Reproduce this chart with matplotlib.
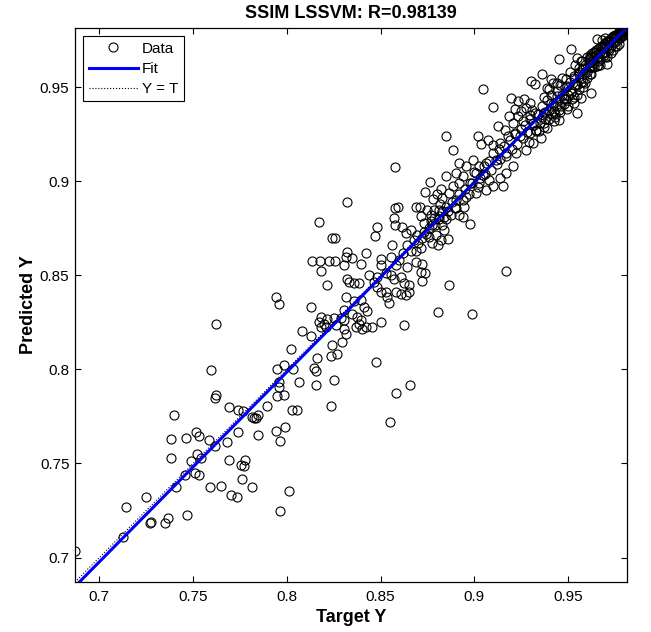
import matplotlib
matplotlib.use('Agg')
import matplotlib.pyplot as plt
import numpy as np

plt.rcParams['font.family'] = ['Liberation Sans', 'DejaVu Sans']

TITLE = 'SSIM LSSVM: R=0.98139'
tick_vals = [0.7, 0.75, 0.8, 0.85, 0.9, 0.95]
tick_labels = ['0.7', '0.75', '0.8', '0.85', '0.9', '0.95']

# (target, predicted) pairs, grouped by area
pts_low = [
    (0.687, 0.7035), (0.7126, 0.7107), (0.7141, 0.7270), (0.7251, 0.7320),
    (0.7272, 0.7185), (0.7278, 0.7189), (0.7350, 0.7181), (0.7368, 0.7210),
    (0.7468, 0.7228), (0.7409, 0.7374), (0.7399, 0.7756), (0.7384, 0.7632),
    (0.7464, 0.7633), (0.7514, 0.7667), (0.7530, 0.7644), (0.7585, 0.7625),
    (0.7619, 0.7593), (0.7680, 0.7616), (0.7738, 0.7665), (0.7690, 0.7801),
    (0.7738, 0.7785), (0.7768, 0.7779), (0.7619, 0.7850), (0.7815, 0.7746),
    (0.7838, 0.7744), (0.7845, 0.7756), (0.7823, 0.7744), (0.7845, 0.7649),
    (0.7384, 0.7528), (0.7520, 0.7552), (0.7491, 0.7512), (0.7544, 0.7530),
    (0.7459, 0.7441), (0.7509, 0.7450), (0.7534, 0.7438), (0.7690, 0.7520),
    (0.7753, 0.7491), (0.7774, 0.7484), (0.7779, 0.7520), (0.7762, 0.7415),
    (0.7815, 0.7375), (0.7589, 0.7374), (0.7648, 0.7381), (0.7701, 0.7335),
    (0.7735, 0.7324), (0.7623, 0.8239), (0.7596, 0.7999), (0.7623, 0.7864),
]

pts_mid_low = [
    (0.7892, 0.7807), (0.7949, 0.7860), (0.7985, 0.7862), (0.8029, 0.7784),
    (0.8056, 0.7784), (0.8234, 0.7807), (0.8549, 0.7718), (0.8581, 0.7873),
    (0.7988, 0.7692), (0.7944, 0.7674), (0.7963, 0.7619), (0.8010, 0.7352),
    (0.7963, 0.7250), (0.8657, 0.7917), (0.8474, 0.8042), (0.7949, 0.8003),
    (0.7985, 0.8024), (0.8035, 0.8003), (0.8145, 0.8006), (0.8154, 0.7994),
    (0.8252, 0.7944), (0.8065, 0.7935), (0.7958, 0.7931), (0.8154, 0.7917),
    (0.7958, 0.7905),
]

pts_mid = [
    (0.8020, 0.8106), (0.8243, 0.8131), (0.8296, 0.8145), (0.8234, 0.8074),
    (0.8270, 0.8083), (0.8159, 0.8061), (0.8181, 0.8225), (0.8207, 0.8225),
    (0.8261, 0.8234), (0.8305, 0.8216), (0.8314, 0.8190), (0.8368, 0.8225),
    (0.8403, 0.8216), (0.8083, 0.8202), (0.8127, 0.8177), (0.8626, 0.8234),
    (0.8127, 0.8332), (0.8305, 0.8314), (0.8412, 0.8332), (0.8430, 0.8309),
    (0.8350, 0.8296), (0.8181, 0.8279), (0.8216, 0.8270), (0.8252, 0.8273),
    (0.8287, 0.8273), (0.8172, 0.8252), (0.8198, 0.8243), (0.8305, 0.8261),
    (0.8376, 0.8279), (0.8394, 0.8261), (0.8385, 0.8243), (0.8421, 0.8225),
    (0.8457, 0.8225), (0.8501, 0.8252), (0.8804, 0.8305), (0.8314, 0.8385),
    (0.8359, 0.8362), (0.8394, 0.8368), (0.8483, 0.8439), (0.8501, 0.8412),
    (0.8528, 0.8412), (0.8537, 0.8385), (0.8545, 0.8355), (0.8581, 0.8412),
    (0.8608, 0.8403), (0.8634, 0.8394), (0.8652, 0.8412), (0.7940, 0.8385),
    (0.7958, 0.8346), (0.8213, 0.8448), (0.8323, 0.8483), (0.8332, 0.8465),
    (0.8359, 0.8462), (0.8385, 0.8462), (0.8439, 0.8501), (0.8483, 0.8492),
    (0.8465, 0.8465), (0.8528, 0.8510), (0.8554, 0.8501), (0.8572, 0.8483),
    (0.8608, 0.8492), (0.8626, 0.8457), (0.8652, 0.8448), (0.8723, 0.8471),
    (0.8864, 0.8451), (0.9172, 0.8523), (0.8987, 0.8295),
]

pts_mid_high = [
    (0.8136, 0.8579), (0.8177, 0.8579), (0.8225, 0.8576), (0.8255, 0.8579),
    (0.8305, 0.8554), (0.8350, 0.8594), (0.8398, 0.8560), (0.8501, 0.8585),
    (0.8501, 0.8554), (0.8554, 0.8599), (0.8581, 0.8554), (0.8599, 0.8581),
    (0.8643, 0.8546), (0.8688, 0.8572), (0.8723, 0.8563), (0.8715, 0.8519),
    (0.8736, 0.8515), (0.8314, 0.8599), (0.8184, 0.8522), (0.8563, 0.8661),
    (0.8688, 0.8629), (0.8715, 0.8644), (0.8323, 0.8626), (0.8421, 0.8617),
    (0.8480, 0.8755), (0.8613, 0.8759), (0.8634, 0.8723), (0.8661, 0.8741),
    (0.8697, 0.8715), (0.8732, 0.8732), (0.8759, 0.8706), (0.8795, 0.8715),
    (0.8839, 0.8741), (0.8471, 0.8711), (0.8243, 0.8700), (0.8257, 0.8700),
    (0.8777, 0.8670), (0.8804, 0.8661), (0.8821, 0.8688), (0.8859, 0.8691),
    (0.8172, 0.8782), (0.8572, 0.8807), (0.8576, 0.8768), (0.8715, 0.8813),
    (0.8768, 0.8821), (0.8786, 0.8804), (0.8812, 0.8813), (0.8732, 0.8777),
    (0.8777, 0.8768), (0.8830, 0.8768), (0.8975, 0.8771), (0.8920, 0.8820),
    (0.8940, 0.8810), (0.8877, 0.8823), (0.8850, 0.8800),
    (0.862, 0.862), (0.864, 0.866), (0.866, 0.863), (0.868, 0.869),
    (0.870, 0.867), (0.872, 0.870), (0.874, 0.872), (0.876, 0.875),
    (0.877, 0.879), (0.879, 0.877), (0.881, 0.880), (0.883, 0.884),
    (0.884, 0.881),
]

pts_high = [
    (0.8576, 0.9074), (0.8320, 0.8891), (0.8848, 0.9026),
    (0.8763, 0.8994), (0.8738, 0.8942), (0.8781, 0.8907), (0.8800, 0.8930),
    (0.8820, 0.8960), (0.8830, 0.8910), (0.8815, 0.8880), (0.8576, 0.8857),
    (0.8595, 0.8866), (0.8688, 0.8866), (0.8710, 0.8866), (0.8750, 0.8848),
    (0.8786, 0.8848), (0.8813, 0.8848), (0.8850, 0.8866), (0.8903, 0.8857),
    (0.8948, 0.8866), (0.8868, 0.8937), (0.8903, 0.8901), (0.8957, 0.8919),
    (0.9010, 0.8937), (0.9064, 0.8955), (0.9153, 0.8973), (0.9099, 0.8973),
    (0.9028, 0.8991), (0.8975, 0.8991), (0.8921, 0.8991), (0.8886, 0.8973),
    (0.8903, 0.9044), (0.8939, 0.9026), (0.9010, 0.9044), (0.9046, 0.9035),
    (0.9081, 0.9008), (0.9135, 0.9017), (0.9170, 0.9044), (0.9206, 0.9079),
    (0.9028, 0.9079), (0.9064, 0.9097), (0.8992, 0.9115), (0.8957, 0.9079),
    (0.8921, 0.9097), (0.9117, 0.9115), (0.9170, 0.9133), (0.9224, 0.9151),
    (0.9277, 0.9168), (0.9313, 0.9204), (0.8850, 0.9240), (0.8886, 0.9165),
    (0.9019, 0.9240), (0.9037, 0.9201), (0.9073, 0.9222), (0.9099, 0.9195),
    (0.9135, 0.9204), (0.9179, 0.9240), (0.9215, 0.9257), (0.9242, 0.9240),
    (0.9295, 0.9257), (0.9331, 0.9275), (0.9126, 0.9293), (0.9162, 0.9275),
    (0.9206, 0.9311), (0.9259, 0.9320), (0.9313, 0.9311), (0.9233, 0.9346),
    (0.9295, 0.9355), (0.9322, 0.9364), (0.9215, 0.9382), (0.9251, 0.9373),
    (0.9277, 0.9391), (0.9197, 0.9444), (0.9233, 0.9427), (0.9268, 0.9435),
    (0.9295, 0.9418), (0.9099, 0.9396), (0.9183, 0.9346), (0.9046, 0.9489),
    (0.9304, 0.9533), (0.9322, 0.9516), (0.9354, 0.9229), (0.9389, 0.9283),
    (0.9425, 0.9318), (0.9452, 0.9327), (0.9370, 0.9310), (0.9345, 0.9265),
    (0.886, 0.884), (0.888, 0.889), (0.890, 0.886), (0.892, 0.893),
    (0.894, 0.890), (0.895, 0.896), (0.897, 0.893), (0.899, 0.899),
    (0.900, 0.905), (0.902, 0.897), (0.903, 0.902), (0.905, 0.908),
    (0.906, 0.904), (0.908, 0.911), (0.909, 0.906), (0.910, 0.915),
    (0.912, 0.909), (0.913, 0.917), (0.914, 0.912), (0.916, 0.919),
    (0.917, 0.915), (0.919, 0.922), (0.920, 0.917), (0.922, 0.925),
    (0.923, 0.920), (0.925, 0.928), (0.926, 0.923), (0.927, 0.930),
    (0.928, 0.926), (0.929, 0.921),
]

pts_top = [
    (0.9656, 0.9756), (0.9514, 0.9702), (0.9452, 0.9649), (0.9550, 0.9658),
    (0.9576, 0.9640), (0.9621, 0.9667), (0.9710, 0.9622), (0.9656, 0.9613),
    (0.9363, 0.9569), (0.9407, 0.9542), (0.9389, 0.9498), (0.9443, 0.9524),
    (0.9487, 0.9542), (0.9532, 0.9560), (0.9496, 0.9507), (0.9550, 0.9516),
    (0.9576, 0.9596), (0.9621, 0.9569), (0.9621, 0.9471), (0.9567, 0.9444),
    (0.9532, 0.9418), (0.9550, 0.9364), (0.9443, 0.9453), (0.9407, 0.9418),
    (0.9461, 0.9400), (0.9372, 0.9364), (0.9425, 0.9373), (0.9496, 0.9382),
    (0.9478, 0.9444), (0.9514, 0.9471),
    (0.930, 0.933), (0.932, 0.930), (0.934, 0.936), (0.936, 0.934),
    (0.936, 0.940), (0.938, 0.937), (0.939, 0.943), (0.940, 0.938),
    (0.941, 0.946), (0.942, 0.941), (0.943, 0.936), (0.944, 0.948),
    (0.945, 0.943), (0.946, 0.951), (0.947, 0.946), (0.948, 0.941),
    (0.949, 0.950), (0.950, 0.946), (0.951, 0.953), (0.952, 0.948),
    (0.953, 0.955), (0.954, 0.951), (0.955, 0.946), (0.956, 0.957),
    (0.957, 0.953), (0.958, 0.950), (0.959, 0.958), (0.960, 0.955),
    (0.961, 0.960), (0.962, 0.957), (0.963, 0.964), (0.964, 0.961),
    (0.965, 0.967), (0.966, 0.962), (0.967, 0.965), (0.968, 0.971),
    (0.969, 0.968), (0.970, 0.966), (0.971, 0.974), (0.972, 0.971),
    (0.973, 0.968), (0.974, 0.977), (0.975, 0.974), (0.976, 0.972),
    (0.977, 0.978), (0.978, 0.977), (0.979, 0.979), (0.980, 0.978),
    (0.981, 0.980), (0.945, 0.938), (0.948, 0.944), (0.952, 0.944),
    (0.955, 0.951), (0.958, 0.953), (0.937, 0.929), (0.940, 0.933),
    (0.943, 0.934),
    (0.931, 0.938), (0.933, 0.927), (0.935, 0.931), (0.937, 0.945),
    (0.938, 0.933), (0.940, 0.949), (0.941, 0.936), (0.942, 0.952),
    (0.944, 0.940), (0.946, 0.937), (0.947, 0.955), (0.949, 0.944),
    (0.950, 0.940), (0.951, 0.958), (0.953, 0.945), (0.954, 0.962),
    (0.956, 0.949), (0.957, 0.964), (0.959, 0.952), (0.960, 0.966),
]

pts_corner = [
    (0.9800, 0.9810), (0.9810, 0.9815), (0.9790, 0.9800), (0.9780, 0.9795),
    (0.9770, 0.9790), (0.9760, 0.9780), (0.9750, 0.9775), (0.9740, 0.9765),
    (0.9730, 0.9760), (0.9720, 0.9750), (0.9710, 0.9745), (0.9700, 0.9735),
    (0.9690, 0.9730), (0.9680, 0.9720), (0.9670, 0.9715), (0.9660, 0.9705),
    (0.9650, 0.9700), (0.9640, 0.9690), (0.9630, 0.9680), (0.9620, 0.9670),
    (0.9780, 0.9760), (0.9750, 0.9720), (0.9720, 0.9700), (0.9690, 0.9670),
    (0.9660, 0.9640), (0.9630, 0.9610), (0.9750, 0.9780), (0.9700, 0.9760),
    (0.9680, 0.9750), (0.9815, 0.9810), (0.9805, 0.9800), (0.9790, 0.9810),
    (0.9770, 0.9800), (0.9760, 0.9770), (0.9740, 0.9740), (0.9710, 0.9720),
    (0.9670, 0.9690), (0.9640, 0.9660), (0.9610, 0.9630), (0.9580, 0.9600),
    (0.9560, 0.9580),
    (0.956, 0.960), (0.957, 0.955), (0.959, 0.962), (0.960, 0.958),
    (0.961, 0.965), (0.962, 0.961), (0.963, 0.966), (0.964, 0.963),
    (0.965, 0.969), (0.966, 0.966), (0.967, 0.962), (0.968, 0.968),
    (0.969, 0.972), (0.970, 0.969), (0.971, 0.966), (0.972, 0.974),
    (0.973, 0.972), (0.974, 0.970), (0.975, 0.976), (0.976, 0.975),
    (0.977, 0.973), (0.978, 0.979), (0.979, 0.977), (0.980, 0.980),
    (0.981, 0.979), (0.9815, 0.9815), (0.9808, 0.9812), (0.9795, 0.9805),
]

groups = [pts_low, pts_mid_low, pts_mid, pts_mid_high, pts_high, pts_top, pts_corner]
target = np.array([p[0] for g in groups for p in g])
predicted = np.array([p[1] for g in groups for p in g])

lo = min(target.min(), predicted.min())
hi = max(target.max(), predicted.max())
slope, intercept = np.polyfit(target, predicted, 1)
line_x = np.array([lo, hi])

fig = plt.figure(figsize=(6.51, 6.32), dpi=100)
ax = fig.add_axes([75 / 651, 50 / 632, 552 / 651, 554 / 632])

ax.plot(target, predicted, 'o', mfc='none', mec='black', ms=6.5, mew=0.8, label='Data')
ax.plot(line_x, slope * line_x + intercept, color='blue', lw=2.2, label='Fit')
ax.plot(line_x, line_x, 'k:', lw=0.8, label='Y = T')

ax.set_xlim(lo, hi)
ax.set_ylim(lo, hi)
ax.set_xticks(tick_vals)
ax.set_xticklabels(tick_labels)
ax.set_yticks(tick_vals)
ax.set_yticklabels(tick_labels)
ax.tick_params(axis='x', direction='in', length=4, width=0.8, top=True,
               labelsize=11, pad=6)
ax.tick_params(axis='y', direction='in', length=4, width=0.8, right=True,
               labelsize=11, pad=4)
for s in ax.spines.values():
    s.set_linewidth(0.9)

ax.set_title(TITLE, fontsize=13, fontweight='bold', pad=7)
ax.set_xlabel('Target Y', fontsize=13, fontweight='bold', labelpad=3)
ax.set_ylabel('Predicted Y', fontsize=13, fontweight='bold', labelpad=2)

leg = ax.legend(loc='upper left', fontsize=11, fancybox=False, framealpha=1,
                edgecolor='black', handlelength=3.2, borderaxespad=0.55,
                labelspacing=0.4, borderpad=0.35, handletextpad=0.3)
leg.get_frame().set_linewidth(0.8)

plt.savefig('out.png', dpi=100)
